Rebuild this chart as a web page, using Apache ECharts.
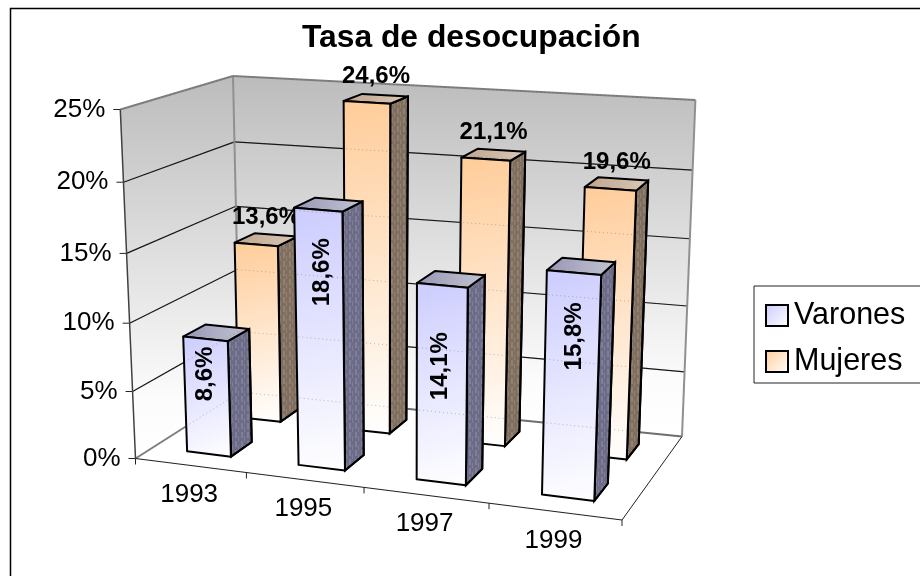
<!DOCTYPE html>
<html><head><meta charset="utf-8"><style>html,body{margin:0;padding:0;background:#fff;overflow:hidden}#c{width:920px;height:576px}</style>
<script src="https://cdn.jsdelivr.net/npm/echarts@6/dist/echarts.min.js"></script></head><body><div id="c"></div>
<script>
const years=['1993','1995','1997','1999'];
const varones=[8.6,18.6,14.1,15.8];
const mujeres=[13.6,24.6,21.1,19.6];
const yTicks=[0,5,10,15,20,25];
const chartTitle='Tasa de desocupación';

const FONT='"Liberation Sans",Arial,sans-serif';
function homog(p0,p1,p2,p3){
  const dx1=p1[0]-p2[0],dx2=p3[0]-p2[0],sx=p0[0]-p1[0]+p2[0]-p3[0];
  const dy1=p1[1]-p2[1],dy2=p3[1]-p2[1],sy=p0[1]-p1[1]+p2[1]-p3[1];
  const den=dx1*dy2-dx2*dy1,g=(sx*dy2-dx2*sy)/den,h=(dx1*sy-sx*dy1)/den;
  return [p1[0]-p0[0]+g*p1[0],p3[0]-p0[0]+h*p3[0],p0[0],p1[1]-p0[1]+g*p1[1],p3[1]-p0[1]+h*p3[1],p0[1],g,h,1];
}
function ap(m,u,w){const d=m[6]*u+m[7]*w+m[8];return [(m[0]*u+m[1]*w+m[2])/d,(m[3]*u+m[4]*w+m[5])/d];}
const floorH=homog([135.5,458.5],[622,520],[682,436.5],[240,392]);
const topH=homog([120.3,109.5],[635,148],[695.4,100],[233,76]);
const KV=0.95,KU=1.03,KT=1.14;
const warp=(t,k)=>t*k/(1+(k-1)*t);
function P(u,v,w){const vv=warp(v,KV);const a=ap(floorH,warp(u,KU),w),b=ap(topH,warp(u,KT),w);return [a[0]+(b[0]-a[0])*vv,a[1]+(b[1]-a[1])*vv];}
function norm(api,params,cat,val){const c=api.coord([cat,val]),r=params.coordSys;return {u:(c[0]-r.x)/r.width,v:(r.y+r.height-c[1])/r.height,bw:api.size([1,0])[0]/r.width};}
const line=(a,b,stroke,lineWidth,extra)=>({type:'line',shape:{x1:a[0],y1:a[1],x2:b[0],y2:b[1]},style:Object.assign({stroke,lineWidth},extra||{})});
const poly=(pts,style)=>({type:'polygon',shape:{points:pts},style});
const txt=(x,y,text,size,weight,align,rot)=>({type:'text',x,y,rotation:rot||0,style:{text,fontFamily:FONT,fontSize:size,fontWeight:weight,fill:'#000',align:align,verticalAlign:'middle'}});
const vgrad=(y0,y1,stops)=>({type:'linear',x:0,y:y0,x2:0,y2:y1,global:true,colorStops:stops});
const diag=(a,b)=>({type:'linear',x:0,y:0,x2:1,y2:1,colorStops:[{offset:0,color:a},{offset:1,color:b}]});
function dots(){const c=document.createElement('canvas');c.width=6;c.height=9;const x=c.getContext('2d');x.fillStyle='rgba(255,255,255,0.13)';x.fillRect(1,0,2,6);x.fillRect(4,4,1,5);return c;}
const pat={image:dots(),repeat:'repeat'};

function renderFrame(params,api){
  const kids=[];
  const wallStops=[{offset:0,color:'#BCBCBC'},{offset:0.85,color:'#FCFCFC'},{offset:1,color:'#FFFFFF'}];
  kids.push(poly([P(0,0,0),P(0,1,0),P(0,1,1),P(0,0,1)],{fill:vgrad(76,458,wallStops)}));
  kids.push(poly([P(0,0,1),P(1,0,1),P(1,1,1),P(0,1,1)],{fill:vgrad(76,437,wallStops)}));
  yTicks.forEach(t=>{
    const n=norm(api,params,0,t);const a=P(0,n.v,0),b=P(0,n.v,1),c=P(1,n.v,1);
    if(t>0&&t<25){kids.push(line(a,b,'#111',1.2));kids.push(line(b,c,'#111',1.2));}
    kids.push(line([a[0]-7,a[1]],a,'#222',1));
    kids.push(txt(a[0]-15,a[1],t+'%',26,'normal','right'));
  });
  kids.push(line(P(0,0,0),P(0,0,1),'#808080',2));
  kids.push(line(P(0,0,1),P(1,0,1),'#707070',2));
  kids.push(line(P(0,0,1),P(0,1,1),'#909090',2));
  kids.push(line(P(1,0,1),P(1,1,1),'#909090',2));
  kids.push(line(P(0,1,0),P(0,1,1),'#808080',2));
  kids.push(line(P(0,1,1),P(1,1,1),'#808080',2));
  kids.push(line(P(0,0,0),P(0,1,0),'#404040',1.5));
  kids.push(line(P(0,0,0),P(1,0,0),'#222',1.2));
  kids.push(line(P(1,0,0),P(1,0,1),'#222',1));
  for(let i=0;i<=years.length;i++){const a=P(i/years.length,0,0);kids.push(line(a,[a[0],a[1]+6],'#222',1));}
  years.forEach((y,i)=>{const n=norm(api,params,i,0),a=P(n.u,0,0);kids.push(txt(a[0]-1,a[1]+29,y,26,'normal','center'));});
  return {type:'group',children:kids};
}
const fmt=v=>v.toFixed(1).replace('.',',')+'%';
const BAR=0.40,SHIFT=0.015;
const varonesLabel={dx:[-4,1,-1,6],dy:[-20,-64,-15,-46]};
function barShape(params,api,w0,w1,sty){
  const cat=api.value(0),val=api.value(1),n=norm(api,params,cat,val);
  const mid=n.u+n.bw*SHIFT,u0=mid-n.bw*BAR/2,u1=mid+n.bw*BAR/2,v=n.v;
  const bs={stroke:'#000',lineWidth:2,lineJoin:'round'};
  const fr=[P(u0,0,w0),P(u1,0,w0),P(u1,v,w0),P(u0,v,w0)];
  const sd=[P(u1,0,w0),P(u1,0,w1),P(u1,v,w1),P(u1,v,w0)];
  const tp=[P(u0,v,w0),P(u1,v,w0),P(u1,v,w1),P(u0,v,w1)];
  return {fr,sd,tp,cat,val,kids:[
    poly(sd,Object.assign({fill:sty.side},bs)),
    poly(sd,{fill:pat}),
    poly(sd,{fill:'none',stroke:'#000',lineWidth:2}),
    poly(tp,Object.assign({fill:sty.top},bs)),
    poly(fr,Object.assign({fill:sty.front},bs))
  ]};
}
function renderMujeres(params,api){
  const b=barShape(params,api,0.65,0.85,{side:'#806E5E',top:{type:'linear',x:0,y:0,x2:1,y2:0,colorStops:[{offset:0,color:'#BFA48C'},{offset:1,color:'#D9C8B8'}]},front:diag('#FFCC99','#FFFFFF')});
  const cx=(b.tp[0][0]+b.tp[1][0]+b.tp[2][0]+b.tp[3][0])/4,cy=(b.tp[0][1]+b.tp[1][1]+b.tp[2][1]+b.tp[3][1])/4;
  b.kids.push(txt(cx,cy-22,fmt(b.val),24,'bold','center'));
  return {type:'group',children:b.kids};
}
function renderVarones(params,api){
  const b=barShape(params,api,0.155,0.355,{side:'#6C6C88',top:{type:'linear',x:0,y:0,x2:1,y2:0,colorStops:[{offset:0,color:'#9696B4'},{offset:1,color:'#C4C4D4'}]},front:diag('#CCCCFF','#FFFFFF')});
  const cx=(b.fr[0][0]+b.fr[1][0])/2,cy=(b.fr[0][1]+b.fr[3][1])/2;
  b.kids.push(txt(cx+varonesLabel.dx[b.cat],cy+varonesLabel.dy[b.cat],fmt(b.val),24,'bold','center',Math.PI/2));
  return {type:'group',children:b.kids};
}
function renderOverlay(params,api){
  const kids=[],st={lineDash:[1,3]};
  yTicks.forEach(t=>{const n=norm(api,params,0,t);kids.push(line(P(0,n.v,0),P(0,n.v,1),'rgba(90,90,90,0.4)',1,st));kids.push(line(P(0,n.v,1),P(1,n.v,1),'rgba(90,90,90,0.4)',1,st));});
  return {type:'group',silent:true,children:kids};
}
const legendGrad=(a)=>({type:'linear',x:0,y:0,x2:1,y2:1,colorStops:[{offset:0,color:a},{offset:1,color:'#FFFFFF'}]});
const chart=echarts.init(document.getElementById('c'),null,{renderer:'canvas'});
chart.setOption({
  animation:false,backgroundColor:'#fff',
  title:{text:chartTitle,left:297,top:17,textStyle:{fontFamily:FONT,fontSize:31.8,fontWeight:'bold',color:'#000'}},
  grid:{left:120,right:200,top:110,bottom:118},
  xAxis:{type:'category',data:years,show:false},
  yAxis:{type:'value',min:0,max:25,interval:5,show:false},
  legend:{left:754,top:286,orient:'vertical',padding:[14,60,6,11],itemGap:15,itemWidth:22,itemHeight:21,backgroundColor:'#fff',borderColor:'#222',borderWidth:1,
    textStyle:{fontFamily:FONT,fontSize:30.5,color:'#000',padding:[0,0,0,1]},
    data:[{name:'Varones',icon:'rect',itemStyle:{color:legendGrad('#CCCCFF'),borderColor:'#000',borderWidth:2}},{name:'Mujeres',icon:'rect',itemStyle:{color:legendGrad('#FFCC99'),borderColor:'#000',borderWidth:2}}]},
  graphic:[{type:'rect',shape:{x:10.5,y:8.5,width:1000,height:800},style:{fill:'none',stroke:'#000',lineWidth:1.5},z:-1,silent:true}],
  series:[
    {type:'custom',name:'frame',renderItem:renderFrame,data:[[0,0]],z:1,silent:true},
    {type:'custom',name:'Mujeres',renderItem:renderMujeres,data:mujeres.map((v,i)=>[i,v]),z:2,itemStyle:{color:'#FFCC99'}},
    {type:'custom',name:'Varones',renderItem:renderVarones,data:varones.map((v,i)=>[i,v]),z:3,itemStyle:{color:'#CCCCFF'}},
    {type:'custom',name:'overlay',renderItem:renderOverlay,data:[[0,0]],z:4,silent:true}
  ]
});
</script></body></html>
